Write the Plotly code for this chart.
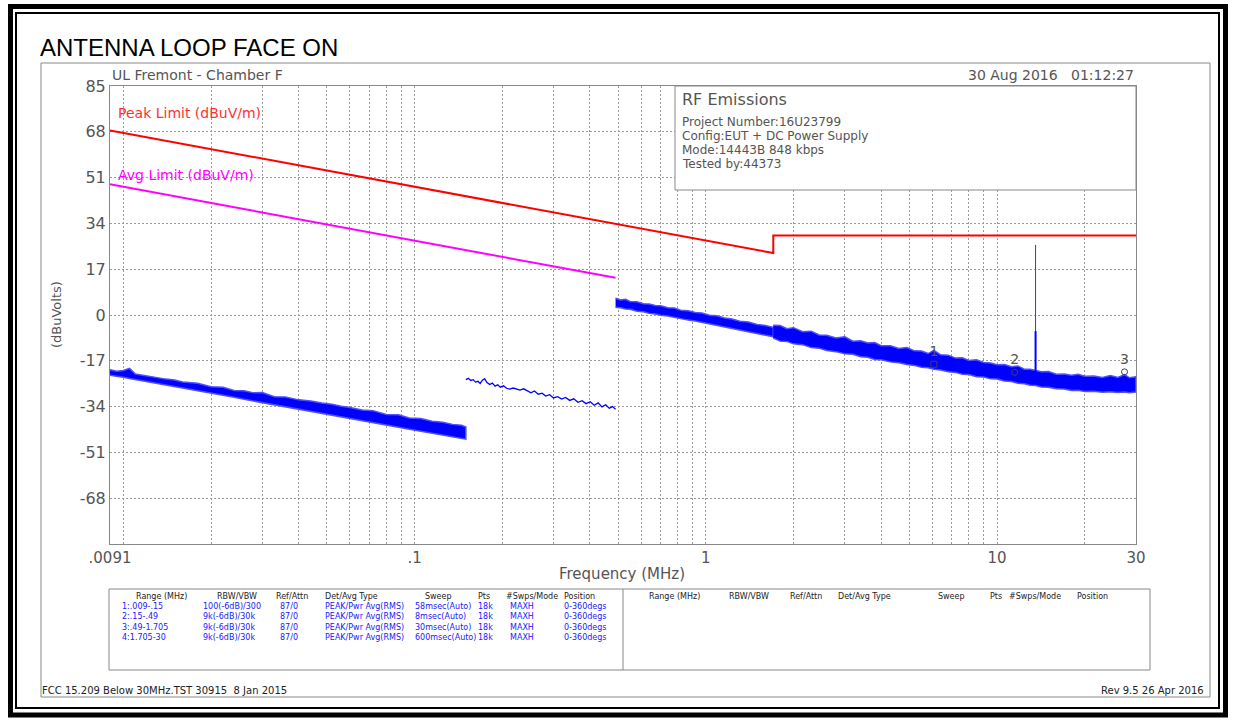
import plotly.graph_objects as go

# ---------------- data ----------------
# Limits (dBuV/m)
peak_limit_freq = [0.009, 1.705, 1.705, 30.0]
peak_limit_db = [68.5, 23.0, 29.5, 29.5]
avg_limit_freq = [0.009, 0.49]
avg_limit_db = [48.5, 13.8]

# Range 1: .009-.15 MHz (noise band envelope)
r1_freq = [0.009, 0.0095, 0.010, 0.0105, 0.011, 0.012, 0.013, 0.014, 0.015, 0.016,
           0.018, 0.020, 0.022, 0.024, 0.026, 0.028, 0.030, 0.033, 0.036, 0.040,
           0.044, 0.048, 0.052, 0.056, 0.060, 0.066, 0.072, 0.080, 0.088, 0.096,
           0.105, 0.115, 0.125, 0.135, 0.145, 0.150]
r1_upper = [-20.3, -20.9, -20.6, -19.8, -21.9, -22.6, -23.0, -23.8, -24.1, -24.9,
            -25.3, -26.6, -26.8, -28.0, -28.1, -28.9, -28.8, -30.3, -30.4, -31.5,
            -31.9, -32.7, -33.1, -33.9, -34.3, -35.3, -35.5, -36.9, -37.0, -38.2,
            -38.4, -39.4, -39.8, -40.6, -40.9, -41.6]
r1_lower = [-22.4, -22.8, -23.1, -23.6, -24.0, -24.7, -25.4, -26.0, -26.6, -27.1,
            -28.1, -29.0, -29.8, -30.5, -31.3, -31.9, -32.5, -33.3, -34.1, -34.9,
            -35.8, -36.5, -37.2, -37.8, -38.5, -39.2, -40.0, -40.9, -41.7, -42.4,
            -43.2, -44.0, -44.6, -45.2, -45.8, -46.1]

# Range 2: .15-.49 MHz
r2_freq = [0.150, 0.153, 0.156, 0.159, 0.162, 0.165, 0.168, 0.171, 0.174, 0.177,
           0.181, 0.185, 0.189, 0.193, 0.197, 0.202, 0.207, 0.212, 0.218, 0.224,
           0.230, 0.237, 0.244, 0.251, 0.258, 0.266, 0.274, 0.282, 0.291, 0.300,
           0.310, 0.320, 0.330, 0.341, 0.352, 0.364, 0.376, 0.388, 0.401, 0.414,
           0.427, 0.440, 0.453, 0.466, 0.478, 0.490]
r2_level = [-24.0, -23.5, -24.3, -24.0, -24.9, -24.6, -25.4, -24.2, -23.6, -25.0,
            -25.8, -25.3, -26.4, -25.9, -26.8, -26.3, -27.2, -27.5, -27.1, -27.6,
            -27.9, -27.4, -28.3, -28.9, -28.2, -29.4, -29.0, -30.1, -29.6, -30.8,
            -30.3, -31.2, -30.6, -31.7, -31.1, -32.4, -31.8, -32.9, -32.2, -33.5,
            -32.6, -34.1, -33.3, -34.6, -34.0, -35.0]

# Range 3: .49-1.705 MHz (noise band envelope)
r3_freq = [0.49, 0.51, 0.53, 0.55, 0.58, 0.61, 0.64, 0.67, 0.70, 0.74, 0.78, 0.82,
           0.87, 0.92, 0.97, 1.03, 1.09, 1.16, 1.23, 1.31, 1.40, 1.50, 1.60, 1.705]
r3_upper = [6.2, 5.6, 5.8, 5.0, 4.9, 4.2, 4.1, 3.5, 3.4, 2.7, 2.6, 1.8,
            1.6, 0.9, 0.7, -0.1, -0.3, -1.1, -1.5, -2.3, -2.6, -3.5, -3.9, -4.6]
r3_lower = [2.9, 2.7, 2.2, 2.1, 1.4, 1.2, 0.6, 0.4, -0.1, -0.4, -1.0, -1.3,
            -1.9, -2.2, -2.8, -3.2, -3.8, -4.3, -5.0, -5.5, -6.2, -6.8, -7.5, -8.1]

# Range 4: 1.705-30 MHz (noise band envelope)
r4_freq = [1.705, 1.8, 1.9, 2.0, 2.15, 2.3, 2.45, 2.6, 2.8, 3.0, 3.2, 3.4, 3.6, 3.8,
           4.0, 4.3, 4.6, 4.9, 5.2, 5.5, 5.8, 6.07, 6.4, 6.8, 7.2, 7.6, 8.0, 8.5,
           9.0, 9.5, 10.0, 10.6, 11.2, 11.8, 12.4, 13.0, 13.56, 14.2, 15.0, 16.0,
           17.0, 18.0, 19.0, 20.0, 21.5, 23.0, 24.5, 26.0, 27.4, 28.5, 30.0]
r4_upper = [-3.8, -3.9, -5.1, -4.7, -6.2, -6.0, -7.4, -7.5, -8.5, -8.1, -9.7, -9.6,
            -10.4, -10.2, -11.4, -11.4, -12.4, -12.1, -13.3, -13.4, -14.3, -13.1,
            -14.8, -14.9, -16.0, -15.9, -16.9, -16.6, -17.6, -17.8, -18.5, -18.4,
            -19.2, -18.9, -20.1, -20.1, -20.6, -21.1, -21.0, -22.0, -21.9, -22.4,
            -22.0, -22.7, -22.6, -23.2, -22.5, -23.2, -22.1, -23.3, -22.9]
r4_lower = [-8.6, -9.7, -9.8, -10.7, -11.0, -12.1, -12.3, -13.2, -13.6, -14.4,
            -14.6, -15.5, -15.7, -16.5, -16.6, -17.4, -17.7, -18.4, -18.7, -19.4,
            -19.6, -20.1, -20.4, -21.1, -21.3, -22.0, -22.1, -22.9, -23.0, -23.7,
            -23.8, -24.5, -24.7, -25.3, -25.5, -26.1, -26.2, -26.7, -26.8, -27.4,
            -27.5, -28.0, -27.9, -28.4, -28.3, -28.7, -28.5, -28.8, -28.6, -28.9,
            -28.6]

# 13.56 MHz carrier
carrier_freq = [13.56, 13.56]
carrier_peak = [-24.0, 26.0]
carrier_body = [-24.0, -6.0]

# Markers
marker_id = ["1", "2", "3"]
marker_freq = [6.07, 11.5, 27.4]
marker_level = [-18.3, -21.3, -21.1]

y_ticks = [-85, -68, -51, -34, -17, 0, 17, 34, 51, 68, 85]
y_tick_text = ["", "-68", "-51", "-34", "-17", "0", "17", "34", "51", "68", "85"]
x_grid = [0.009, 0.01, 0.02, 0.03, 0.04, 0.05, 0.06, 0.07, 0.08, 0.09,
          0.1, 0.2, 0.3, 0.4, 0.5, 0.6, 0.7, 0.8, 0.9,
          1, 2, 3, 4, 5, 6, 7, 8, 9, 10, 20, 30]
x_labels = {0.009: ".0091", 0.1: ".1", 1: "1", 10: "10", 30: "30"}

table_header = ["Range (MHz)", "RBW/VBW", "Ref/Attn", "Det/Avg Type", "Sweep",
                "Pts", "#Swps/Mode", "Position"]
table_rows = [
    ["1:.009-.15", "100(-6dB)/300", "87/0", "PEAK/Pwr Avg(RMS)", "58msec(Auto)", "18k", "MAXH", "0-360degs"],
    ["2:.15-.49", "9k(-6dB)/30k", "87/0", "PEAK/Pwr Avg(RMS)", "8msec(Auto)", "18k", "MAXH", "0-360degs"],
    ["3:.49-1.705", "9k(-6dB)/30k", "87/0", "PEAK/Pwr Avg(RMS)", "30msec(Auto)", "18k", "MAXH", "0-360degs"],
    ["4:1.705-30", "9k(-6dB)/30k", "87/0", "PEAK/Pwr Avg(RMS)", "600msec(Auto)", "18k", "MAXH", "0-360degs"],
]
info_lines = ["Project Number:16U23799", "Config:EUT + DC Power Supply",
              "Mode:14443B 848 kbps", "Tested by:44373"]

# ---------------- layout helpers ----------------
W, H = 1233, 721
L, R, T, B = 110, 1136, 86, 544
FONT = "DejaVu Sans"
GRAY = "#555555"
BLUE = "#0000ff"


def px(x):
    return (x - L) / (R - L)


def py(y):
    return (B - y) / (B - T)


fig = go.Figure()


def band(freq, upper, lower):
    # filled noise band with a softer outline
    fig.add_trace(go.Scatter(
        x=list(freq) + list(freq)[::-1], y=list(upper) + list(lower)[::-1],
        mode="lines", fill="toself", fillcolor=BLUE,
        line=dict(color="#5050ff", width=1.5), hoverinfo="skip", showlegend=False))


band(r1_freq, r1_upper, r1_lower)
fig.add_trace(go.Scatter(x=r2_freq, y=r2_level, mode="lines",
                         line=dict(color=BLUE, width=1.3), hoverinfo="skip", showlegend=False))
band(r3_freq, r3_upper, r3_lower)
band(r4_freq, r4_upper, r4_lower)
fig.add_trace(go.Scatter(x=carrier_freq, y=carrier_peak, mode="lines",
                         line=dict(color="#3030ff", width=1), hoverinfo="skip", showlegend=False))
fig.add_trace(go.Scatter(x=carrier_freq, y=carrier_body, mode="lines",
                         line=dict(color=BLUE, width=2), hoverinfo="skip", showlegend=False))

fig.add_trace(go.Scatter(x=peak_limit_freq, y=peak_limit_db, mode="lines",
                         line=dict(color="#ff0000", width=2), hoverinfo="skip", showlegend=False))
fig.add_trace(go.Scatter(x=avg_limit_freq, y=avg_limit_db, mode="lines",
                         line=dict(color="#ff00ff", width=2), hoverinfo="skip", showlegend=False))

fig.add_trace(go.Scatter(
    x=marker_freq, y=marker_level, mode="markers+text", text=marker_id,
    textposition="top center", textfont=dict(family=FONT, size=14, color=GRAY),
    marker=dict(symbol=["square-open", "circle-open", "circle-open"], size=6,
                color="#444444", line=dict(width=1)),
    hoverinfo="skip", showlegend=False))

shapes = []


def line(x0, y0, x1, y1, color="#888888", width=1):
    shapes.append(dict(type="line", xref="paper", yref="paper",
                       x0=px(x0), y0=py(y0), x1=px(x1), y1=py(y1),
                       line=dict(color=color, width=width)))


def rect(x0, y0, x1, y1, color="#888888", width=1, fill=None):
    shapes.append(dict(type="rect", xref="paper", yref="paper",
                       x0=px(x0), y0=py(y0), x1=px(x1), y1=py(y1),
                       line=dict(color=color, width=width),
                       fillcolor=fill if fill else "rgba(0,0,0,0)", layer="above"))


# page borders
rect(10.5, 6.5, 1225.5, 715, color="#000000", width=5)
rect(16, 13, 1219, 708, color="#000000", width=2)
# outer gray frame
rect(41, 63, 1210, 697)
# info box
rect(675, 86, 1136, 190, fill="#ffffff")
# table box
rect(109, 589, 1150, 670)
line(623, 589, 623, 670)

ann = []


def text(x, y, s, size=13, color=GRAY, anchor="left", family=FONT, angle=0):
    ann.append(dict(xref="paper", yref="paper", x=px(x), y=py(y), text=s,
                    showarrow=False, xanchor=anchor, yanchor="middle", textangle=angle,
                    font=dict(family=family, size=size, color=color)))


text(38, 48, "ANTENNA LOOP FACE ON", size=24, color="#000000",
     family="Liberation Sans, Arial")
text(110, 75, "UL Fremont - Chamber F", size=14)
text(1136, 75, "30 Aug 2016   01:12:27", size=14, anchor="right")
text(116, 113, "Peak Limit (dBuV/m)", size=14, color="#ff3030")
text(116, 175, "Avg Limit (dBuV/m)", size=14, color="#ff00ff")
text(680, 100, "RF Emissions", size=16)
for i, s in enumerate(info_lines):
    text(680, 122 + 14 * i, s, size=12)
text(56, 315, "(dBuVolts)", size=13, anchor="center", angle=-90)
text(622, 574, "Frequency (MHz)", size=15, anchor="center")

col_left = [134, 215, 274, 323, 423, 476, 504, 562]
row_left = [120, 201, 278, 323, 413, 476, 508, 562]
col_right = [647, 727, 788, 836, 936, 988, 1007, 1075]
for cx, s in zip(col_left, table_header):
    text(cx, 596, s, size=8, color="#222222")
for cx, s in zip(col_right, table_header):
    text(cx, 596, s, size=8, color="#222222")
for r, row in enumerate(table_rows):
    for cx, s in zip(row_left, row):
        text(cx, 606 + 10.5 * r, s, size=8, color="#2020ff")

text(40, 690, "FCC 15.209 Below 30MHz.TST 30915  8 Jan 2015", size=10, color="#222222")
text(1206, 690, "Rev 9.5 26 Apr 2016", size=10, color="#222222", anchor="right")

grid = dict(showgrid=True, gridcolor="#9a9a9a", griddash="2px,2px", gridwidth=1,
            showline=True, mirror=True, linecolor="#888888", linewidth=1,
            zeroline=False, ticks="")

fig.update_layout(
    width=W, height=H, autosize=False,
    margin=dict(l=L, r=W - R, t=T, b=H - B),
    paper_bgcolor="#ffffff", plot_bgcolor="#ffffff",
    showlegend=False, shapes=shapes, annotations=ann,
    xaxis=dict(type="log", range=[-2.04576, 1.47712], tickmode="array",
               tickvals=x_grid, ticktext=[x_labels.get(v, "") for v in x_grid],
               tickfont=dict(family=FONT, size=15, color=GRAY), **grid),
    yaxis=dict(range=[-85, 85], tickmode="array", tickvals=y_ticks, ticktext=y_tick_text,
               tickfont=dict(family=FONT, size=16, color=GRAY), **grid),
)

fig.write_html("out.html")
